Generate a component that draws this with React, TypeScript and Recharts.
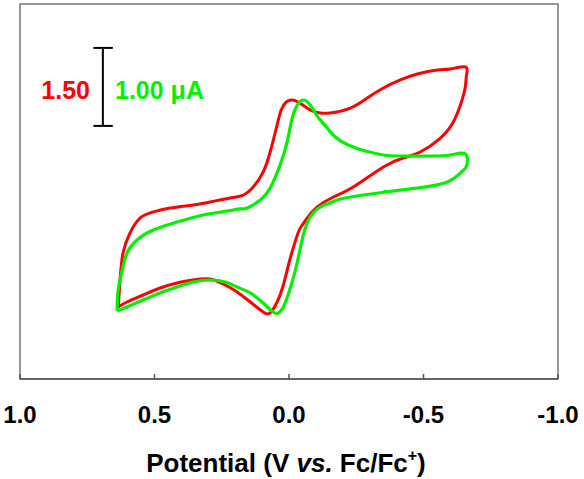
import { ComposedChart, Line, XAxis, YAxis, ReferenceArea, ReferenceLine, Customized } from "recharts";

// Cyclic voltammograms, potential in V vs. Fc/Fc+, current in µA.
// Each trace is drawn in units of its own scale bar (red 1.50 µA, green 1.00 µA).
const RED_SCALE = 1.5;
const GREEN_SCALE = 1.0;

const redPotential = [
  0.635, 0.628, 0.617, 0.591, 0.553, 0.505, 0.442, 0.356, 0.293, 0.219, 0.17, 0.133, 0.096, 0.07,
  0.047, 0.029, 0.01, -0.008, -0.034, -0.079, -0.116, -0.153, -0.228, -0.291, -0.351, -0.414,
  -0.477, -0.552, -0.6, -0.656, -0.66, -0.656, -0.641, -0.611, -0.563, -0.488, -0.425, -0.351,
  -0.239, -0.165, -0.105, -0.068, -0.042, -0.031, -0.005, 0.021, 0.044, 0.07, 0.096, 0.144, 0.193,
  0.237, 0.293, 0.356, 0.416, 0.479, 0.542, 0.602, 0.635,
];
const redCurrent = [
  -2.077, -1.538, -1.019, -0.635, -0.346, -0.231, -0.154, -0.096, -0.038, 0.038, 0.096, 0.25, 0.538,
  0.923, 1.385, 1.731, 1.885, 1.923, 1.885, 1.731, 1.673, 1.673, 1.769, 1.962, 2.154, 2.308, 2.423,
  2.5, 2.519, 2.558, 2.404, 2.192, 1.885, 1.5, 1.192, 0.923, 0.808, 0.635, 0.25, 0.058, -0.135,
  -0.346, -0.538, -0.673, -1.115, -1.635, -1.962, -2.173, -2.154, -1.962, -1.769, -1.635, -1.519,
  -1.538, -1.596, -1.692, -1.827, -1.962, -2.058,
];

const greenPotential = [
  0.639, 0.635, 0.62, 0.602, 0.565, 0.505, 0.416, 0.319, 0.23, 0.181, 0.155, 0.107, 0.07, 0.033,
  0.007, -0.012, -0.031, -0.053, -0.079, -0.105, -0.142, -0.172, -0.22, -0.284, -0.351, -0.414,
  -0.526, -0.6, -0.656, -0.66, -0.641, -0.589, -0.477, -0.358, -0.276, -0.191, -0.153, -0.116,
  -0.079, -0.053, -0.031, -0.005, 0.021, 0.04, 0.059, 0.096, 0.144, 0.193, 0.237, 0.293, 0.356,
  0.416, 0.479, 0.542, 0.602, 0.639,
];
const greenCurrent = [
  -1.423, -1.154, -0.897, -0.679, -0.513, -0.385, -0.282, -0.192, -0.141, -0.115, -0.103, 0.0,
  0.154, 0.449, 0.744, 1.051, 1.218, 1.282, 1.218, 1.077, 0.923, 0.808, 0.705, 0.628, 0.577, 0.564,
  0.564, 0.577, 0.59, 0.436, 0.359, 0.231, 0.154, 0.103, 0.064, 0.013, -0.038, -0.09, -0.218,
  -0.449, -0.795, -1.128, -1.372, -1.449, -1.436, -1.321, -1.192, -1.115, -1.051, -1.026, -1.051,
  -1.115, -1.192, -1.282, -1.372, -1.423,
];
// short lead-in where the green scan starts
const greenStartPotential = [-0.356, -0.358];
const greenStartCurrent = [0.128, 0.103];

const xTicks = [1.0, 0.5, 0.0, -0.5, -1.0];

const Y_MIN = -2.295;
const Y_MAX = 2.513;

const RED = "#ff0000";
const GREEN = "#00f000";
const FONT = "'Liberation Sans', Arial, sans-serif";

const toPoints = (e: number[], i: number[], scale: number) =>
  e.map((x, k) => ({ x, y: i[k] / scale }));

const redData = toPoints(redPotential, redCurrent, RED_SCALE);
const greenData = toPoints(greenPotential, greenCurrent, GREEN_SCALE);
const greenStart = toPoints(greenStartPotential, greenStartCurrent, GREEN_SCALE);

function AxisTitle(props: any) {
  const vb = props.viewBox || { x: 20, y: 379, width: 537.5, height: 100 };
  return (
    <text
      x={vb.x + vb.width / 2 - 3}
      y={vb.y + 93}
      textAnchor="middle"
      fontFamily={FONT}
      fontWeight="bold"
      fontSize={26}
      fill="#000"
    >
      Potential (V <tspan fontStyle="italic">vs.</tspan> Fc/Fc
      <tspan fontSize={16} dy={-11}>+</tspan>
      <tspan dy={11}>)</tspan>
    </text>
  );
}

function ScaleLabels() {
  return (
    <g fontFamily={FONT} fontWeight="bold" fontSize={25}>
      <text x={90} y={99} textAnchor="end" fill={RED}>1.50</text>
      <text x={115} y={99} fill={GREEN}>1.00 μA</text>
    </g>
  );
}

export default function App() {
  return (
    <div style={{ position: "absolute", left: 0, top: 0, background: "#fff" }}>
      <ComposedChart width={584} height={479} margin={{ top: 4, right: 26, bottom: 0, left: 20 }}>
        <XAxis
          dataKey="x"
          type="number"
          domain={[-1, 1]}
          reversed
          ticks={xTicks}
          tickFormatter={(v: number) => v.toFixed(1)}
          height={100}
          tickSize={-5}
          tickMargin={32}
          stroke="#555"
          strokeWidth={1.5}
          tick={{ fill: "#000", fontFamily: FONT, fontWeight: "bold", fontSize: 24 }}
          allowDataOverflow
          label={(p: any) => <AxisTitle {...p} />}
        />
        <YAxis type="number" domain={[Y_MIN, Y_MAX]} hide allowDataOverflow />
        <ReferenceArea
          x1={1}
          x2={-1}
          y1={Y_MIN}
          y2={Y_MAX}
          fill="none"
          stroke="#777"
          strokeWidth={1.5}
          ifOverflow="visible"
        />
        {/* scale bar: one unit = 1.50 µA (red) / 1.00 µA (green) */}
        <ReferenceLine segment={[{ x: 0.692, y: 0.95 }, { x: 0.692, y: 1.95 }]} stroke="#000" strokeWidth={2} ifOverflow="visible" />
        <ReferenceLine segment={[{ x: 0.727, y: 1.95 }, { x: 0.655, y: 1.95 }]} stroke="#000" strokeWidth={2} ifOverflow="visible" />
        <ReferenceLine segment={[{ x: 0.727, y: 0.95 }, { x: 0.655, y: 0.95 }]} stroke="#000" strokeWidth={2} ifOverflow="visible" />
        <Line data={redData} dataKey="y" type="natural" stroke={RED} strokeWidth={3} dot={false} isAnimationActive={false} />
        <Line data={greenData} dataKey="y" type="natural" stroke={GREEN} strokeWidth={3.2} dot={false} isAnimationActive={false} />
        <Line data={greenStart} dataKey="y" type="linear" stroke={GREEN} strokeWidth={3} dot={false} isAnimationActive={false} />
        <Customized component={ScaleLabels} />
      </ComposedChart>
    </div>
  );
}
